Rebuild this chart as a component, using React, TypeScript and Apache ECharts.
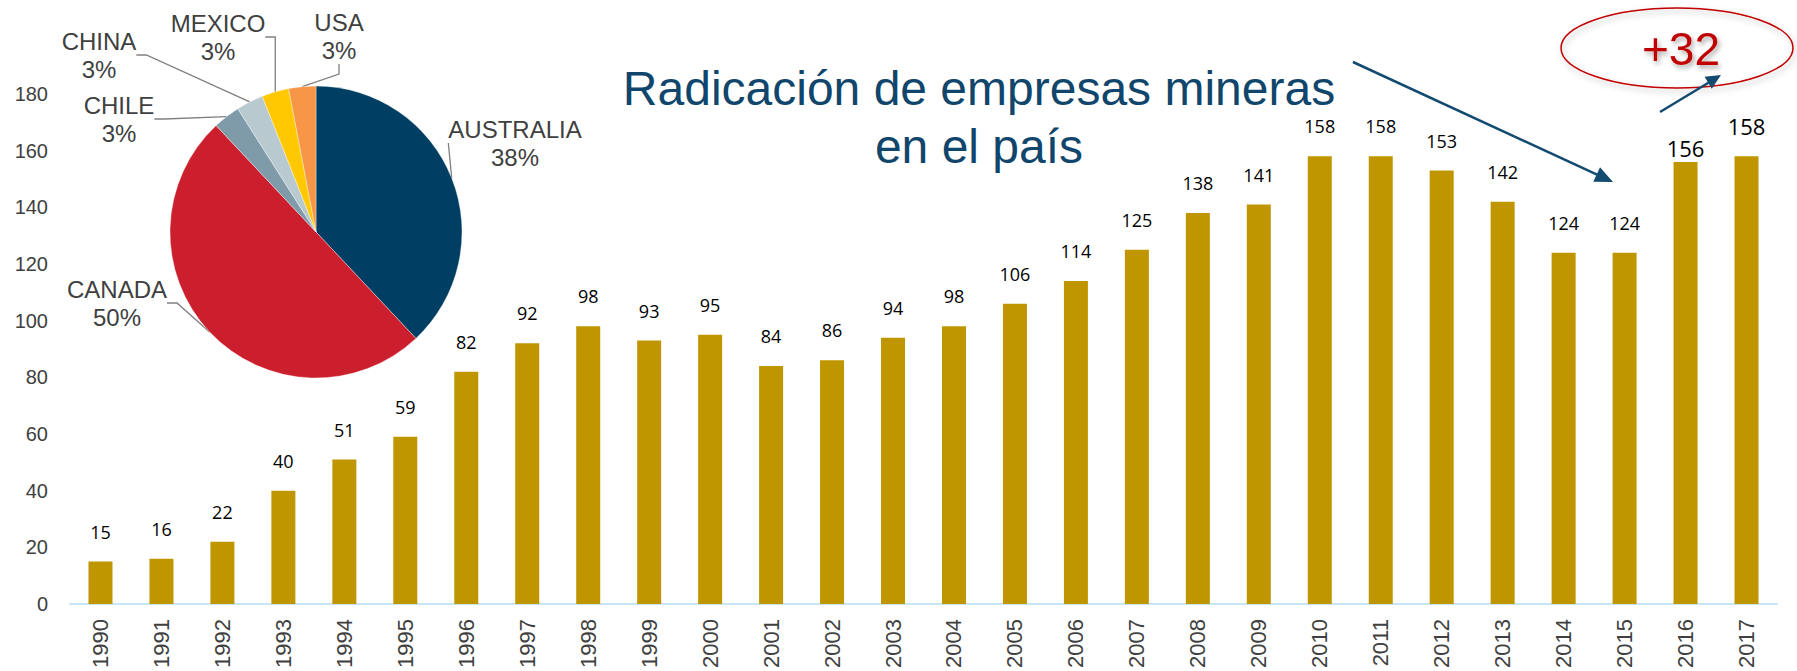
import React, { useEffect, useRef } from "react";
import * as echarts from "echarts";

const years = [
  "1990", "1991", "1992", "1993", "1994", "1995", "1996", "1997", "1998", "1999",
  "2000", "2001", "2002", "2003", "2004", "2005", "2006", "2007", "2008", "2009",
  "2010", "2011", "2012", "2013", "2014", "2015", "2016", "2017",
];
const companies = [
  15, 16, 22, 40, 51, 59, 82, 92, 98, 93,
  95, 84, 86, 94, 98, 106, 114, 125, 138, 141,
  158, 158, 153, 142, 124, 124, 156, 158,
];
const countries = ["AUSTRALIA", "CANADA", "CHILE", "CHINA", "MEXICO", "USA"];
const countryShare = [38, 50, 3, 3, 3, 3];
const countryColors = ["#003f63", "#cc1f2e", "#7f9aa8", "#b9c9d0", "#ffc800", "#f79646"];
const yTicks = { min: 0, max: 180, interval: 20 };
const titleText = "Radicación de empresas mineras\nen el país";
const deltaText = "+32";

// label placement (layout, not data)
const pieLabelPos: [number, number][] = [
  [515, 143],
  [117, 303],
  [119, 119],
  [99, 55],
  [218, 37],
  [339, 36],
];

function arrowHead(x1: number, y1: number, x2: number, y2: number, len: number, half: number) {
  const dx = x2 - x1;
  const dy = y2 - y1;
  const l = Math.sqrt(dx * dx + dy * dy);
  const ux = dx / l;
  const uy = dy / l;
  const bx = x2 - ux * len;
  const by = y2 - uy * len;
  return [
    [x2, y2],
    [bx - uy * half, by + ux * half],
    [bx + uy * half, by - ux * half],
  ];
}

export default function App() {
  const ref = useRef<HTMLDivElement>(null);
  useEffect(() => {
    if (!ref.current) return;
    const chart = echarts.init(ref.current, null, { renderer: "svg" });
    const arrowColor = "#134a70";
    const a1: [number, number, number, number] = [1353, 62, 1613, 182];
    const a2: [number, number, number, number] = [1660, 112, 1721, 75];

    const barData = companies.map((v, i) => {
      if (i === companies.length - 2) {
        return { value: v, label: { fontSize: 22, distance: 3 } };
      }
      if (i === companies.length - 1) {
        return { value: v, label: { fontSize: 22, distance: 19 } };
      }
      return v;
    });

    chart.setOption({
      animation: false,
      grid: { left: 70, right: 20, top: 94, bottom: 62, containLabel: false },
      xAxis: {
        type: "category",
        data: years,
        axisLine: { show: true, lineStyle: { color: "#c6e5f7", width: 2 } },
        axisTick: { show: false },
        axisLabel: {
          rotate: 90,
          margin: 15,
          color: "#404040",
          fontSize: 22,
          fontFamily: "'Liberation Sans', Arial, sans-serif",
        },
      },
      yAxis: {
        type: "value",
        min: yTicks.min,
        max: yTicks.max,
        interval: yTicks.interval,
        axisLine: { show: false },
        axisTick: { show: false },
        splitLine: { show: false },
        axisLabel: {
          margin: 22,
          color: "#404040",
          fontSize: 20,
          fontFamily: "'Liberation Sans', Arial, sans-serif",
        },
      },
      series: [
        {
          type: "bar",
          data: barData,
          barWidth: 24,
          itemStyle: { color: "#bf9600" },
          label: {
            show: true,
            position: "top",
            distance: 21,
            color: "#000",
            fontSize: 18,
            fontFamily: "'Open Sans', sans-serif",
          },
          z: 2,
        },
        {
          type: "pie",
          center: [316, 232],
          radius: 146,
          startAngle: 90,
          clockwise: true,
          z: 5,
          data: countries.map((name, i) => ({
            name,
            value: countryShare[i],
            itemStyle: { color: countryColors[i] },
          })),
          itemStyle: { borderColor: "rgba(255,255,255,0.6)", borderWidth: 0.6 },
          label: {
            show: true,
            formatter: "{b}\n{c}%",
            color: "#404040",
            fontSize: 24,
            lineHeight: 28,
            align: "center",
            fontFamily: "'Liberation Sans', Arial, sans-serif",
          },
          labelLine: {
            show: true,
            length: 10,
            length2: 10,
            lineStyle: { color: "#808080", width: 1.3 },
          },
          labelLayout: (params: any) => {
            const p = pieLabelPos[params.dataIndex];
            return { x: p[0], y: p[1], align: "center", verticalAlign: "middle" };
          },
          emphasis: { disabled: true },
        },
      ],
      graphic: [
        {
          type: "text",
          x: 979,
          y: 117,
          z: 10,
          style: {
            text: titleText,
            fill: "#10466c",
            font: "48px 'Liberation Sans', Arial, sans-serif",
            lineHeight: 58,
            align: "center",
            verticalAlign: "middle",
          },
        },
        {
          type: "line",
          z: 10,
          shape: { x1: a1[0], y1: a1[1], x2: a1[2] - 10, y2: a1[3] - 4.6 },
          style: { stroke: arrowColor, lineWidth: 2.5 },
        },
        {
          type: "polygon",
          z: 10,
          shape: { points: arrowHead(a1[0], a1[1], a1[2], a1[3], 18, 8) },
          style: { fill: arrowColor },
        },
        {
          type: "line",
          z: 10,
          shape: { x1: a2[0], y1: a2[1], x2: a2[2] - 8, y2: a2[3] + 5 },
          style: { stroke: arrowColor, lineWidth: 2.5 },
        },
        {
          type: "polygon",
          z: 10,
          shape: { points: arrowHead(a2[0], a2[1], a2[2], a2[3], 15, 7) },
          style: { fill: arrowColor },
        },
        {
          type: "ellipse",
          z: 9,
          shape: { cx: 1677, cy: 48, rx: 116, ry: 40 },
          style: {
            fill: "none",
            stroke: "#c00000",
            lineWidth: 1.5,
            shadowBlur: 6,
            shadowColor: "rgba(0,0,0,0.3)",
            shadowOffsetX: 2,
            shadowOffsetY: 3,
          },
        },
        {
          type: "text",
          x: 1681,
          y: 49,
          z: 10,
          style: {
            text: deltaText,
            fill: "#c00000",
            font: "46px 'Liberation Sans', Arial, sans-serif",
            align: "center",
            verticalAlign: "middle",
            textShadowBlur: 5,
            textShadowColor: "rgba(0,0,0,0.35)",
            textShadowOffsetX: 2,
            textShadowOffsetY: 3,
          },
        },
      ],
    });
    return () => chart.dispose();
  }, []);
  return (
    <div
      ref={ref}
      style={{ position: "absolute", left: 0, top: 0, width: 1797, height: 671, background: "#fff" }}
    />
  );
}
